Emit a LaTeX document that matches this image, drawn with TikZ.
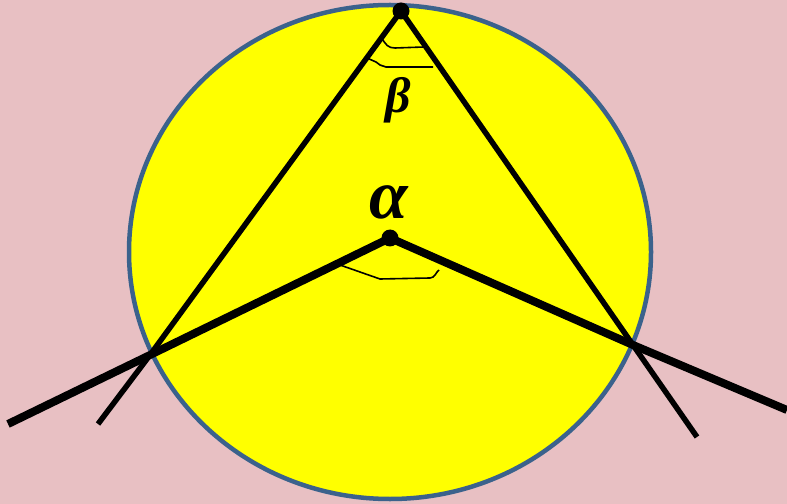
\documentclass[tikz,border=0pt]{standalone}
\usepackage{fontspec}
\setmainfont{Liberation Serif}
\begin{document}
\begin{tikzpicture}[x=1bp,y=-1bp,
  thinleg/.style={line width=5.5bp,black},
  thickleg/.style={line width=8bp,black},
  anglemark/.style={line width=1.6bp,black,line join=round},
  vdot/.style={circle,fill=black,inner sep=0pt,minimum size=17bp},
  greek/.style={font=\bfseries\itshape}]
\definecolor{bgpink}{RGB}{232,192,195}
\definecolor{rimblue}{RGB}{59,98,140}
\definecolor{discyellow}{RGB}{255,255,0}
\fill[bgpink] (0,0) rectangle (787,504);
\useasboundingbox (0,0) rectangle (787,504);
\draw[line width=4.5bp,draw=rimblue,fill=discyellow] (390,252) ellipse [x radius=261,y radius=247];
\coordinate (T) at (401,11);
\coordinate (C) at (390,238);
\coordinate (L) at (150,355);
\coordinate (R) at (633,345);
\coordinate (LB) at (98,424);
\coordinate (RB) at (697,437);
\coordinate (LA) at (8,424);
\coordinate (RA) at (787,410);
\draw[thinleg] (T) -- (L) -- (LB);
\draw[thinleg] (T) -- (R) -- (RB);
\draw[thickleg] (C) -- (L) -- (LA);
\draw[thickleg] (C) -- (R) -- (RA);
\node[vdot] (dT) at (T) {};
\node[vdot] (dC) at (C) {};
% beta marks
\draw[anglemark] (381,37) .. controls (386,45) and (388,48) .. (395,48) -- (424,47);
\draw[anglemark] (367,58) -- (376,62) -- (380,65) -- (386,67) -- (433,67);
% alpha mark
\draw[anglemark] (340,265) -- (380,279) -- (430,278) .. controls (435,278) and (436,272) .. (439,270);
\node[font=\fontsize{50}{50}\selectfont\bfseries\itshape] (beta) at (398,100) {β};
\node[font=\fontsize{70}{70}\selectfont\bfseries\itshape] (alpha) at (389,202) {α};
\end{tikzpicture}
\end{document}
